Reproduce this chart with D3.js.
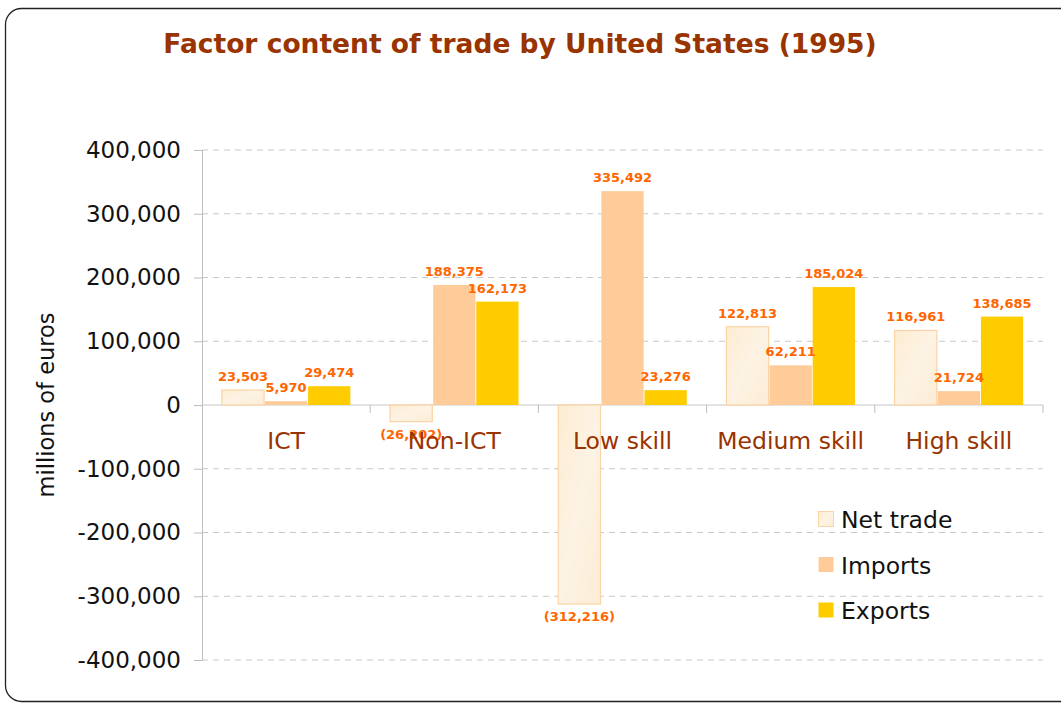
<!DOCTYPE html>
<html>
<head>
<meta charset="utf-8">
<script src="https://cdn.jsdelivr.net/npm/d3@7"></script>
<style>
  body { margin: 0; background: #fff; }
  svg { display: block; font-family: Verdana, "DejaVu Sans", sans-serif; }
</style>
</head>
<body>
<div id="chart"></div>
<script>
// data
const categories = ["ICT", "Non-ICT", "Low skill", "Medium skill", "High skill"];
const seriesNames = ["Net trade", "Imports", "Exports"];
const netTrade = [23503, -26202, -312216, 122813, 116961];
const imports = [5970, 188375, 335492, 62211, 21724];
const exportsVals = [29474, 162173, 23276, 185024, 138685];
const yTicks = [400000, 300000, 200000, 100000, 0, -100000, -200000, -300000, -400000];

const width = 1061, height = 704;
const margin = { top: 150, bottom: 44, left: 202, right: 18 };

const colors = { "Net trade": "#fdf0dc", "Imports": "#ffcc99", "Exports": "#ffcc00" };
const strokes = { "Net trade": "#fcd3a4", "Imports": "#ffcc99", "Exports": "#ffcc00" };

const svg = d3.select("#chart").append("svg")
  .attr("width", width)
  .attr("height", height);

// frame
svg.append("rect")
  .attr("x", 5.5).attr("y", 8.5)
  .attr("width", 1100).attr("height", 693)
  .attr("rx", 16)
  .attr("fill", "none")
  .attr("stroke", "#222")
  .attr("stroke-width", 1.3);

// texture for net trade bars
const defs = svg.append("defs");
const grad = defs.append("linearGradient").attr("id", "netfill")
  .attr("x1", 0).attr("y1", 0).attr("x2", 1).attr("y2", 1);
grad.append("stop").attr("offset", "0%").attr("stop-color", "#fcecd2");
grad.append("stop").attr("offset", "50%").attr("stop-color", "#fdf3e4");
grad.append("stop").attr("offset", "100%").attr("stop-color", "#fbecd4");

const x0 = d3.scaleBand()
  .domain(categories)
  .range([margin.left, width - margin.right])
  .paddingInner(0)
  .paddingOuter(0);

const x1 = d3.scaleBand()
  .domain(seriesNames)
  .range([0, x0.bandwidth()])
  .paddingOuter(0.46)
  .paddingInner(0.02);

const y = d3.scaleLinear()
  .domain([-400000, 400000])
  .range([height - margin.bottom, margin.top]);

const fmt = d3.format(",");
const tickFmt = d => (d < 0 ? "-" : "") + fmt(Math.abs(d));

// gridlines
svg.append("g")
  .selectAll("line")
  .data(yTicks)
  .join("line")
  .attr("x1", margin.left)
  .attr("x2", width - margin.right)
  .attr("y1", d => y(d))
  .attr("y2", d => y(d))
  .attr("stroke", "#c8c8c8")
  .attr("stroke-dasharray", d => d === 0 ? null : "6,5")
  .attr("stroke-width", 1);

// y axis
const yAxis = svg.append("g")
  .attr("transform", `translate(${margin.left},0)`)
  .call(d3.axisLeft(y).tickValues(yTicks).tickFormat(tickFmt).tickSize(8).tickPadding(13));
yAxis.select(".domain").attr("stroke", "#bdbdbd");
yAxis.selectAll(".tick line").attr("stroke", "#bdbdbd");
yAxis.selectAll(".tick text")
  .attr("font-size", 23)
  .attr("font-family", "Verdana, 'DejaVu Sans', sans-serif")
  .attr("fill", "#111");

// category separators on zero line
svg.append("g")
  .selectAll("line")
  .data(categories)
  .join("line")
  .attr("x1", d => x0(d) + x0.bandwidth())
  .attr("x2", d => x0(d) + x0.bandwidth())
  .attr("y1", y(0))
  .attr("y2", y(0) + 8)
  .attr("stroke", "#bdbdbd");

// rows for bars
const rows = categories.map((c, i) => ({
  cat: c,
  values: [
    { name: "Net trade", value: netTrade[i] },
    { name: "Imports", value: imports[i] },
    { name: "Exports", value: exportsVals[i] }
  ]
}));

const groups = svg.append("g")
  .selectAll("g")
  .data(rows)
  .join("g")
  .attr("transform", d => `translate(${x0(d.cat)},0)`);

groups.selectAll("rect")
  .data(d => d.values)
  .join("rect")
  .attr("x", d => x1(d.name))
  .attr("width", x1.bandwidth())
  .attr("y", d => y(Math.max(0, d.value)))
  .attr("height", d => Math.abs(y(d.value) - y(0)))
  .attr("fill", d => d.name === "Net trade" ? "url(#netfill)" : colors[d.name])
  .attr("stroke", d => d.name === "Net trade" ? strokes[d.name] : "none")
  .attr("stroke-width", 1.2);

// category labels
svg.append("g")
  .selectAll("text")
  .data(categories)
  .join("text")
  .attr("x", d => x0(d) + x0.bandwidth() / 2)
  .attr("y", y(0) + 44)
  .attr("text-anchor", "middle")
  .attr("font-size", 23.5)
  .attr("fill", "#993300")
  .text(d => d);

// value labels
groups.selectAll("text.val")
  .data(d => d.values)
  .join("text")
  .attr("class", "val")
  .attr("x", d => x1(d.name) + x1.bandwidth() / 2)
  .attr("y", d => d.value >= 0 ? y(d.value) - 9 : y(d.value) + 17)
  .attr("text-anchor", "middle")
  .attr("font-size", 13)
  .attr("font-weight", "bold")
  .attr("fill", "#ff6600")
  .text(d => d.value >= 0 ? fmt(d.value) : "(" + fmt(-d.value) + ")");

// y label
svg.append("text")
  .attr("transform", `translate(54,${y(0)}) rotate(-90)`)
  .attr("text-anchor", "middle")
  .attr("font-size", 22.5)
  .attr("fill", "#111")
  .text("millions of euros");

// title
svg.append("text")
  .attr("x", 520)
  .attr("y", 53)
  .attr("text-anchor", "middle")
  .attr("font-size", 26.5)
  .attr("font-weight", "bold")
  .attr("fill", "#993300")
  .text("Factor content of trade by United States (1995)");

// legend
const legend = svg.append("g")
  .attr("transform", "translate(818,520)")
  .selectAll("g")
  .data(seriesNames)
  .join("g")
  .attr("transform", (d, i) => `translate(0,${i * 45.5})`);

legend.append("rect")
  .attr("x", 0.5).attr("y", -8.5)
  .attr("width", 15).attr("height", 15)
  .attr("fill", d => d === "Net trade" ? "url(#netfill)" : colors[d])
  .attr("stroke", d => d === "Net trade" ? strokes[d] : "none");

legend.append("text")
  .attr("x", 23)
  .attr("y", 8)
  .attr("font-size", 23.5)
  .attr("fill", "#111")
  .text(d => d);
</script>
</body>
</html>
